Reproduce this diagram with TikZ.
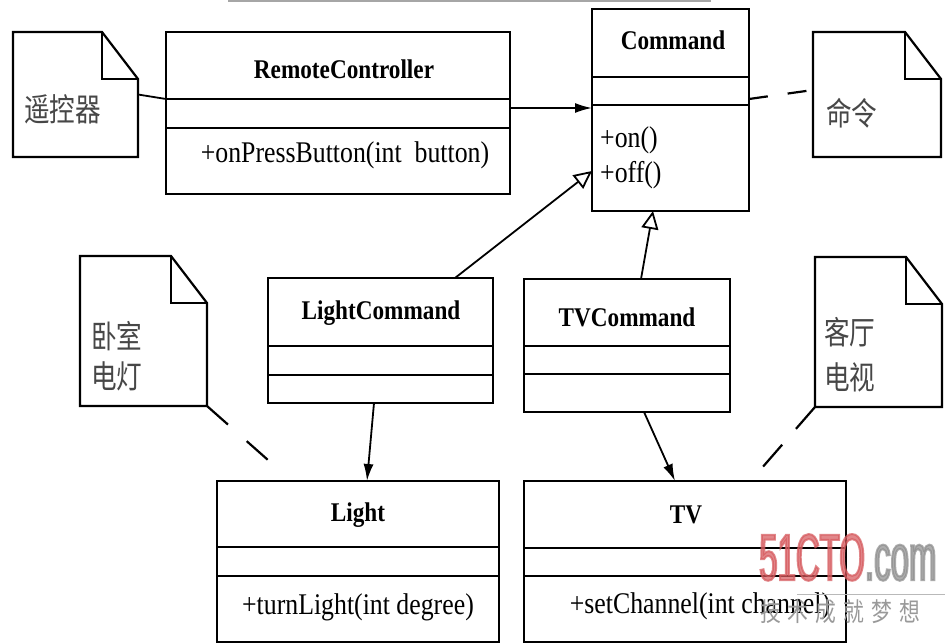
\documentclass[tikz,border=0pt]{standalone}
\usepackage{fontspec}
\setmainfont{Liberation Serif}[FakeStretch=0.86]
\newfontfamily\cjk{Noto Sans CJK SC}[FakeStretch=0.8]
\newfontfamily\wmfont{Liberation Sans}[FakeStretch=0.5, FakeBold=3]
\usetikzlibrary{arrows.meta}

% outline of a UML note with a folded top-right corner
\newcommand\drawnotebox[1]{%
  \draw[notestroke] (#1.north west) -- ([xshift=-36pt]#1.north east)
    -- ([yshift=-47pt]#1.north east) -- (#1.south east) -- (#1.south west) -- cycle;
  \draw[notestroke] ([xshift=-36pt]#1.north east) -- ([xshift=-36pt,yshift=-47pt]#1.north east)
    -- ([yshift=-47pt]#1.north east);}

\begin{document}
\begin{tikzpicture}[x=1pt,y=-1pt,
  classbox/.style={draw, line width=2.2pt, outer sep=0pt, inner sep=0pt, anchor=north west},
  divider/.style={line width=2.2pt},
  notebg/.style={outer sep=0pt, inner sep=0pt, anchor=north west},
  notestroke/.style={line width=2.2pt, line join=miter},
  title/.style={font=\fontsize{27}{30}\selectfont\bfseries, inner sep=0pt},
  member/.style={font=\fontsize{30}{32}\selectfont, inner sep=0pt},
  notetext/.style={font=\fontsize{32}{40}\selectfont\cjk, text=black!72, inner sep=0pt, align=left},
  assoc/.style={line width=1.8pt, -{Latex[length=17pt,width=10pt]}},
  inherit/.style={line width=1.8pt, -{Triangle[open,length=18pt,width=17pt,fill=white]}},
  noteline/.style={line width=2.2pt},
]
\useasboundingbox (0,0) rectangle (945,644);
\fill[white] (0,0) rectangle (945,644);

% thin rule along the top edge
\draw[gray!70, line width=1.6pt] (228,0.8) -- (711,0.8);

% ---------- classes ----------
\node[classbox, minimum width=344pt, minimum height=162pt] (rc) at (166,32) {};
\draw[divider] (rc.west |- 0,99) -- (rc.east |- 0,99);
\draw[divider] (rc.west |- 0,128) -- (rc.east |- 0,128);
\node[title] (rcT) at (344,69) {RemoteController};
\node[member] (rcM) at (345,155) {+onPressButton(int\ \ button)};

\node[classbox, minimum width=157pt, minimum height=202pt] (cmd) at (592,9) {};
\draw[divider] (cmd.west |- 0,77) -- (cmd.east |- 0,77);
\draw[divider] (cmd.west |- 0,105) -- (cmd.east |- 0,105);
\node[title] (cmdT) at (673,40) {Command};
\node[member, anchor=west] (cmdM1) at (600,140) {+on()};
\node[member, anchor=west] (cmdM2) at (600,175) {+off()};

\node[classbox, minimum width=225pt, minimum height=125pt] (lc) at (268,278) {};
\draw[divider] (lc.west |- 0,346) -- (lc.east |- 0,346);
\draw[divider] (lc.west |- 0,375) -- (lc.east |- 0,375);
\node[title] (lcT) at (381,313) {LightCommand};

\node[classbox, minimum width=206pt, minimum height=133pt] (tvc) at (524,279) {};
\draw[divider] (tvc.west |- 0,346) -- (tvc.east |- 0,346);
\draw[divider] (tvc.west |- 0,374) -- (tvc.east |- 0,374);
\node[title] (tvcT) at (627,317) {TVCommand};

\node[classbox, minimum width=282pt, minimum height=161pt] (light) at (217,481) {};
\draw[divider] (light.west |- 0,547) -- (light.east |- 0,547);
\draw[divider] (light.west |- 0,576) -- (light.east |- 0,576);
\node[title] (lightT) at (358,515) {Light};
\node[member] (lightM) at (358,607) {+turnLight(int degree)};

\node[classbox, minimum width=322pt, minimum height=161pt] (tv) at (524,481) {};
\draw[divider] (tv.west |- 0,548) -- (tv.east |- 0,548);
\draw[divider] (tv.west |- 0,576) -- (tv.east |- 0,576);
\node[title] (tvT) at (686,515) {TV};
\node[member] (tvM) at (700,606) {+setChannel(int channel)};

% ---------- notes ----------
\node[notebg, minimum width=125pt, minimum height=125pt] (nRC) at (13,32) {};
\drawnotebox{nRC}
\node[notetext, anchor=west] (nRCt) at (24,109) {遥控器};

\node[notebg, minimum width=128pt, minimum height=125pt] (nCmd) at (813,32) {};
\drawnotebox{nCmd}
\node[notetext, anchor=west] (nCmdt) at (826,113) {命令};

\node[notebg, minimum width=127pt, minimum height=150pt] (nLight) at (80,256) {};
\drawnotebox{nLight}
\node[notetext, anchor=west, font=\fontsize{32}{40}\selectfont\cjk] (nLightt) at (91,356) {卧室\\电灯};

\node[notebg, minimum width=127pt, minimum height=150pt] (nTV) at (815,257) {};
\drawnotebox{nTV}
\node[notetext, anchor=west, font=\fontsize{32}{45}\selectfont\cjk] (nTVt) at (824,355) {客厅\\电视};

% ---------- connectors ----------
\draw[noteline, line width=1.8pt] (nRC.east) -- (rc.west |- 0,99);
\draw[assoc] (rc.east |- 0,108) -- (cmd.west |- 0,108);
\draw[noteline, dash pattern=on 19pt off 20pt] (cmd.east |- 0,99) -- (nCmd.west |- 0,90);

\draw[inherit] (lc.north -| 455,0) -- (cmd.west |- 0,171);
\draw[inherit] (tvc.north -| 641,0) -- (cmd.south -| 653,0);

\draw[assoc] (lc.south -| 374,0) -- (light.north -| 367,0);
\draw[assoc] (tvc.south -| 644,0) -- (tv.north -| 675,0);

\coordinate (lightNoteEnd) at (268,460);
\draw[noteline, dash pattern=on 28pt off 25pt] (nLight.south east) -- (lightNoteEnd);
\coordinate (tvNoteEnd) at (761,469);
\draw[noteline, dash pattern=on 29pt off 21pt] (nTV.south west) -- (tvNoteEnd);

% ---------- site mark ----------
\node[anchor=south west, inner sep=0pt, opacity=0.72,
      font=\wmfont\fontsize{66}{66}\selectfont] (wm) at (759,581)
  {\textcolor[HTML]{D65A5E}{51CTO}\textcolor[HTML]{8E8E8E}{.com}};
\draw[gray!55, line width=1pt] (797,594) -- (945,594);
\node[anchor=west, inner sep=0pt, text=gray!80, font=\fontsize{26}{28}\selectfont\cjk] (wmSub) at (760,612)
  {技\hspace{7pt}术\hspace{7pt}成\hspace{7pt}就\hspace{7pt}梦\hspace{7pt}想};
\end{tikzpicture}
\end{document}
